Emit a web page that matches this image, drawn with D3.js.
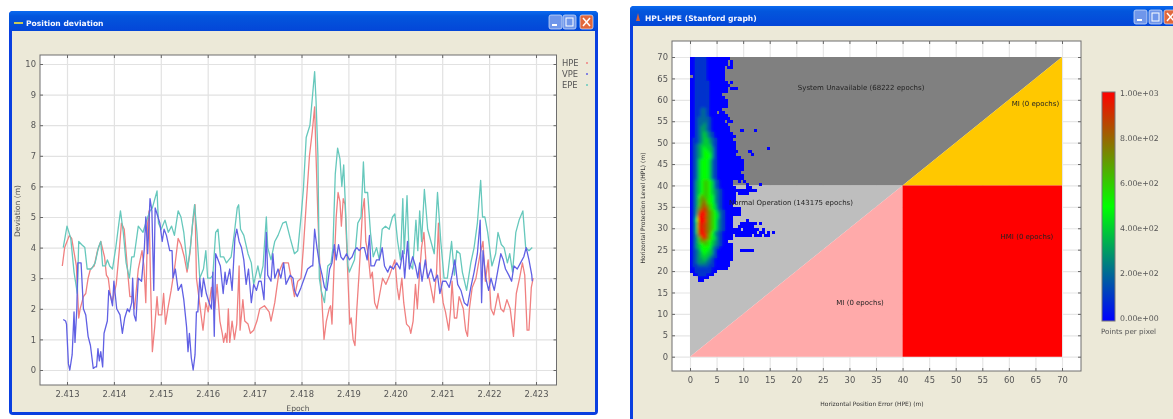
<!DOCTYPE html>
<html>
<head>
<meta charset="utf-8">
<script src="https://cdn.jsdelivr.net/npm/d3@7"></script>
<style>
  html, body { margin: 0; background: #fff; overflow: hidden; }
  svg { display: block; font-family: "DejaVu Sans", sans-serif; filter: blur(0.55px); }
  .axis path { display: none; }
</style>
</head>
<body>
<script>
// --- left chart data, epochs in thousandths above 2.4 ---
var deviationTicks = [0, 1, 2, 3, 4, 5, 6, 7, 8, 9, 10];
var epochTicks = [13, 14, 15, 16, 17, 18, 19, 20, 21, 22, 23];
var legendNames = ["HPE", "VPE", "EPE"];

var hpeEpoch = [12.9,12.95,13.05,13.1,13.2,13.22,13.25,13.28,13.35,13.4,13.45,13.5,13.58,13.65,13.72,13.8,13.84,13.88,13.92,13.96,14.05,14.12,14.16,14.22,14.3,14.34,14.4,14.44,14.52,14.6,14.64,14.68,14.72,14.75,14.78,14.82,14.87,14.92,14.95,15.02,15.06,15.1,15.15,15.22,15.3,15.37,15.43,15.5,15.56,15.62,15.68,15.73,15.76,15.9,15.96,16.01,16.08,16.15,16.2,16.26,16.31,16.34,16.38,16.41,16.44,16.47,16.52,16.57,16.62,16.67,16.69,16.75,16.79,16.86,16.91,16.98,17.05,17.11,17.21,17.31,17.35,17.43,17.52,17.6,17.72,17.78,17.85,17.92,17.99,18.04,18.1,18.17,18.23,18.28,18.31,18.35,18.39,18.43,18.48,18.53,18.59,18.62,18.65,18.69,18.74,18.78,18.82,18.85,18.89,18.93,18.96,18.99,19.03,19.06,19.1,19.14,19.18,19.23,19.3,19.34,19.37,19.42,19.47,19.51,19.56,19.61,19.67,19.73,19.8,19.88,19.99,20.04,20.08,20.14,20.18,20.24,20.3,20.33,20.38,20.43,20.47,20.51,20.56,20.61,20.67,20.72,20.77,20.82,20.88,20.92,20.96,21.02,21.07,21.14,21.18,21.21,21.26,21.31,21.36,21.45,21.5,21.54,21.58,21.64,21.72,21.81,21.87,21.92,21.98,22.04,22.1,22.19,22.25,22.31,22.38,22.45,22.52,22.58,22.65,22.71,22.76,22.81,22.85,22.9,22.94];
var hpeValue = [3.4,4,4.4,4.3,3.4,2.7,1.7,2,2.4,2.5,3,3.3,3.4,3.9,4.2,3.7,3.1,3,2.5,2.2,2.8,4,4.8,4.6,3.1,2.4,2.4,2,3.3,3.9,3.4,2.2,4.8,5.2,3,0.6,1.4,2.4,1.8,1.8,2.5,1.5,2,2.6,3.4,4.3,4.1,3.7,3.2,3.8,4.8,5.4,3,1.3,2.2,1.9,2.7,2,2.8,1.6,1.2,0.9,1.2,0.9,2,0.9,1.6,1,1.5,3.4,1.3,2.3,1.6,1.5,1.2,1.3,1.6,2,2.1,1.9,1.6,2.2,3.2,3.5,3.5,3,2.4,2.9,3,4,5.4,7,7.8,8.6,7,5,3.4,2.4,1,1.6,2,2.1,1.5,3.2,5,5.8,5.5,4.7,5.6,5.4,4.2,3,1.5,1.7,1,0.8,2,3.2,5.2,5.6,4.2,3.8,3,3.2,2.2,2,2.5,3,2.8,3.1,3.6,2.7,2.3,3,2.2,1.5,1.4,1.2,1.6,2.8,2,3,4,4.5,3.2,3,2.6,2.2,3.2,4.8,3,2.2,1.9,1.3,2,2.9,1.7,1.7,2.4,2,1.3,1.1,2,2.7,3,3.8,4.2,2.9,3.6,2,1.8,2.5,2,1.9,2.3,2,1.1,2.5,3,3.5,3.1,1.3,1.3,2.7,3];

var epeEpoch = [12.92,13,13.08,13.15,13.22,13.25,13.31,13.38,13.43,13.52,13.6,13.67,13.72,13.76,13.82,13.86,13.91,13.97,14.04,14.09,14.14,14.2,14.26,14.33,14.38,14.43,14.52,14.62,14.7,14.77,14.82,14.92,14.95,15.01,15.09,15.16,15.23,15.29,15.37,15.43,15.49,15.57,15.63,15.69,15.72,15.77,15.83,15.91,15.96,16,16.06,16.11,16.17,16.22,16.27,16.34,16.4,16.5,16.57,16.63,16.66,16.7,16.77,16.86,16.93,16.98,17.07,17.12,17.18,17.25,17.28,17.35,17.43,17.5,17.6,17.67,17.76,17.85,17.92,17.99,18.04,18.1,18.18,18.28,18.31,18.35,18.38,18.42,18.49,18.56,18.63,18.67,18.72,18.77,18.82,18.86,18.9,18.94,18.99,19.02,19.13,19.2,19.27,19.32,19.35,19.41,19.47,19.53,19.6,19.66,19.72,19.79,19.87,19.94,19.99,20.05,20.11,20.16,20.19,20.25,20.3,20.37,20.44,20.48,20.52,20.56,20.62,20.69,20.76,20.83,20.9,20.97,21.04,21.11,21.2,21.26,21.31,21.38,21.43,21.52,21.61,21.68,21.75,21.82,21.86,21.91,21.97,22.06,22.14,22.19,22.26,22.32,22.39,22.44,22.5,22.57,22.64,22.72,22.78,22.85,22.92];
var epeValue = [4,4.7,4.3,3.2,2.5,4.2,4.1,4,3.3,3.3,3.5,4,4.2,3.4,3.4,3.6,3.4,3.3,4,4.6,5.2,4.5,3.5,3,3.7,3.7,4.7,4.5,4.9,5.2,5.3,5.85,4.8,4.6,4.9,4.5,4.7,4.4,5.2,5,4.5,3.3,4,5,5.4,4.5,3,3.3,3.9,3,3,3.1,4.5,4.6,3.7,3.7,3.5,3.7,4.5,5.3,5.4,4.6,4.4,3.8,3.5,2.8,3.4,3,3.4,5,4,3.6,4.2,4.4,4.8,4.85,4.3,3.8,3.9,5,5.9,7.6,8,9.75,8.8,7,3,2.6,2.2,3.4,3.5,4,6.4,7.25,6.9,6,6.7,5.2,3.4,3.2,3.6,4.8,5,6.8,5.8,5.8,4.5,3.7,4,3.6,4.6,4.7,4.6,5,5.1,4.2,3.6,5.6,3.8,5.7,3.5,3.3,4.9,3.9,5.2,4.2,5.9,4.6,4.2,3.8,5.8,4.2,3,3,4.2,3.1,3.9,3.8,3.2,2.6,3.5,4,4.8,6.2,5,5,4.5,3.4,3.8,4.5,4.1,4,3.5,3.8,3.2,4.5,4.9,5.2,4,3.9,4];

var vpeEpoch = [12.92,12.97,12.99,13.03,13.06,13.11,13.15,13.17,13.21,13.23,13.26,13.3,13.35,13.4,13.45,13.5,13.56,13.6,13.63,13.66,13.69,13.72,13.76,13.79,13.86,13.89,13.93,13.97,14,14.06,14.13,14.18,14.23,14.29,14.33,14.38,14.4,14.43,14.47,14.52,14.59,14.65,14.68,14.72,14.77,14.81,14.85,14.88,14.94,14.98,15.03,15.07,15.12,15.19,15.24,15.26,15.31,15.37,15.44,15.49,15.55,15.58,15.61,15.65,15.69,15.73,15.76,15.79,15.83,15.87,15.91,15.97,16.03,16.08,16.11,16.14,16.17,16.22,16.27,16.33,16.37,16.4,16.47,16.52,16.58,16.62,16.67,16.72,16.77,16.82,16.87,16.93,16.98,17.04,17.09,17.14,17.2,17.25,17.28,17.35,17.39,17.43,17.5,17.56,17.62,17.67,17.76,17.82,17.85,17.91,17.99,18.06,18.13,18.21,18.24,18.28,18.33,18.38,18.44,18.49,18.54,18.6,18.65,18.7,18.74,18.79,18.84,18.89,18.96,19.02,19.08,19.13,19.18,19.23,19.29,19.34,19.4,19.45,19.48,19.55,19.6,19.66,19.72,19.77,19.84,19.89,19.96,20.03,20.1,20.16,20.2,20.26,20.3,20.37,20.43,20.48,20.52,20.57,20.64,20.69,20.76,20.83,20.9,20.95,21.01,21.08,21.15,21.21,21.27,21.33,21.4,21.47,21.54,21.61,21.68,21.75,21.81,21.84,21.87,21.93,21.99,22.04,22.11,22.18,22.25,22.3,22.35,22.42,22.48,22.53,22.6,22.67,22.74,22.79,22.85,22.91,22.92];
var vpeValue = [1.65,1.6,1.5,0.2,0,0.5,1.9,0.9,2,3.5,3.5,3.5,2,1.8,1.1,0.8,0.05,0.1,0.1,0.7,0.3,0.6,0.1,1.2,1.6,2.6,2.4,2.1,2.9,2,1.8,1.2,1.7,2,1.9,2.2,3,1.8,1.6,3,2.9,4,5,3.8,5.6,5.2,2.6,5.3,5,4.8,4.2,4.6,4.4,3.9,3.9,3,3.3,2.6,2.8,2.3,1.4,0.6,1.2,0.4,0,0.5,1.9,1.9,3,2.4,3,2.5,2.2,2,3.2,1.1,3.8,3.6,3.4,2.5,3.2,2.8,3.3,2.6,4.3,4.6,4.2,4,3.6,2.8,3.3,2.2,2.8,2.6,2.9,2.9,2.3,4.5,3.1,2.9,3.8,3,3.3,3,3.5,2.8,3.1,3,2.6,2.4,2.7,3,3.3,3.4,3.4,4.6,4,3.5,3.1,2.7,2.6,3.3,3.5,4.1,3.6,4.1,3.7,3.6,3.8,3.6,3.7,3.9,4,3.9,4,4,3.6,4.4,3.4,3.4,3.6,3.6,4,3.4,3.2,3.4,3.3,3.5,3.3,3.9,3,4.2,3.3,3.7,3.4,3,3.5,2.9,3.6,3,3.3,2.9,3.1,2.5,2.9,2.9,2.7,3.1,3.6,2.8,2.6,2.2,2.1,2.7,3.2,3.8,4.9,2.2,3.9,3,2.6,3,2.6,3.2,3.8,3.6,3.3,3.1,2.9,3.4,3.3,3.5,3.7,4,3.6,3.1,2.9];

// --- right chart data ---
var hpeTicks = [0, 5, 10, 15, 20, 25, 30, 35, 40, 45, 50, 55, 60, 65, 70];
var hplTicks = [0, 5, 10, 15, 20, 25, 30, 35, 40, 45, 50, 55, 60, 65, 70];
var colorbarTicks = [0, 200, 400, 600, 800, 1000];

// regions of the Stanford graph, corners as [HPE, HPL]
var regionColors = ["#808080", "#bebebe", "#ffaaaa", "#ffc800", "#ff0000"];
var regionCorners = [
  [[0, 40], [40, 40], [70, 70], [0, 70]],
  [[0, 0], [40, 40], [0, 40]],
  [[0, 0], [40, 0], [40, 40]],
  [[40, 40], [70, 40], [70, 70]],
  [[40, 0], [70, 0], [70, 40], [40, 40]]
];

var regionLabels = ["System Unavailable (68222 epochs)", "MI (0 epochs)", "Normal Operation (143175 epochs)", "HMI (0 epochs)", "MI (0 epochs)"];
var regionLabelHpe = [32.2, 65, 19, 63.4, 32];
var regionLabelHpl = [62.3, 58.6, 35.4, 27.5, 12.1];

// density rows from HPL 70 downward, one char per HPE bin, in hundreds of points ("." = empty, a = 1000)
var heatRows = [
  "001111000000000",
  "00111100000000.0",
  "00111100000000.0",
  "0011110000000.00",
  "0011110000000",
  "0011110000000",
  ".011110000000",
  "0011110000000",
  "00111110000000.0",
  "001111100000000",
  "00111110000000.000",
  "00111110000000",
  "001111100000",
  "0011111000000",
  "00111110000000",
  "00111110000000",
  "00111110000000",
  "001122100000",
  "0011221000.00",
  "00112210000000",
  "001222210000000",
  "0012222100000.00",
  "00122321000000",
  "001233210000000",
  "001233210000000....0....0",
  "0012343210000000",
  "00123432100000000",
  "0112344321000000",
  "01123443210000000",
  "01234444210000000",
  "01234544310000000............0",
  "012345543100000000....0",
  "01234555310000000......0",
  "0123455531000000000",
  "01245554210000000000",
  "01245554210000000000",
  "01245554210000000000",
  "01245554210000000000",
  "0124555421000000000",
  "01245554210000000000",
  "01245554210000000000",
  "0134566542100000..0.0",
  "0134566542100000.....0....0",
  "01345665421000000....00",
  "0134566543210000000000000",
  "01345665432100000.0000",
  "01357665532100000",
  "01367765532100000",
  "01367865532100000",
  "0136887654210000",
  "0137898654210000000",
  "0138a98765321000000",
  "0139aa8765421000000",
  "014aa98765421000",
  "015aaa8765321000.....0",
  "0149a98765321000...000000.0",
  "014a998765321000..000000",
  "0149a98765321000000.000000.0",
  "0149a98753210000000000000.00.0.0",
  "0138aa8653210000.000000.000.00",
  "0136898654210000",
  "01367765432100",
  "0134566543210000",
  "0134555532100000",
  "0123555431000000...00000",
  "0123454431000000",
  "0123444321000000",
  "0123343210000000",
  "012333221000000",
  "011222211000000",
  "00111111000000",
  "0011111100",
  ".00111000",
  "...0000",
  "...00"
];

var svgWidth = 1173;
var svgHeight = 419;
var windowBg = "#ece9d8";

var svg = d3.select("body").append("svg")
  .attr("width", svgWidth)
  .attr("height", svgHeight);

var defs = svg.append("defs");
var titleGrad = defs.append("linearGradient")
  .attr("id", "titleGrad").attr("x1", 0).attr("x2", 0).attr("y1", 0).attr("y2", 1);
titleGrad.append("stop").attr("offset", "0%").attr("stop-color", "#0a6af0");
titleGrad.append("stop").attr("offset", "25%").attr("stop-color", "#0356dc");
titleGrad.append("stop").attr("offset", "100%").attr("stop-color", "#0446d8");

// soft layer for the dense part of the heat map
defs.append("filter").attr("id", "heatBlur")
  .attr("x", "-5%").attr("y", "-5%").attr("width", "110%").attr("height", "110%")
  .append("feGaussianBlur").attr("stdDeviation", 1.6);

// draws the XP style window behind a chart
function drawWindow(x, y, w, h, title, titleX) {
  svg.append("rect").attr("x", x).attr("y", y).attr("width", w).attr("height", h)
    .attr("rx", 4).attr("fill", "#0a3fe0");
  svg.append("rect").attr("x", x + 3).attr("y", y + 20).attr("width", w - 6).attr("height", h - 23)
    .attr("fill", windowBg);
  svg.append("rect").attr("x", x).attr("y", y).attr("width", w).attr("height", 20)
    .attr("rx", 4).attr("fill", "url(#titleGrad)");
  svg.append("text").attr("x", titleX).attr("y", y + 15)
    .attr("font-size", "7.6px").attr("font-weight", "bold").attr("fill", "#f4f6ff")
    .text(title);
}

function drawButtons(xs, y) {
  xs.forEach(function(bx, i) {
    svg.append("rect").attr("x", bx).attr("y", y).attr("width", 13).attr("height", 14)
      .attr("rx", 2)
      .attr("fill", i == 2 ? "#e2683c" : "#6f96ea")
      .attr("stroke", "#dbe6fb").attr("stroke-width", 0.7);
  });
  svg.append("rect").attr("x", xs[0] + 3).attr("y", y + 9).attr("width", 5).attr("height", 2).attr("fill", "#fff");
  svg.append("rect").attr("x", xs[1] + 3).attr("y", y + 3).attr("width", 7).attr("height", 8)
    .attr("fill", "none").attr("stroke", "#fff");
  svg.append("path")
    .attr("d", `M${xs[2] + 3},${y + 3}L${xs[2] + 10},${y + 11}M${xs[2] + 10},${y + 3}L${xs[2] + 3},${y + 11}`)
    .attr("stroke", "#fff").attr("stroke-width", 1.5);
}

drawWindow(9, 11, 589, 404, "Position deviation", 26);
drawButtons([549, 563, 580], 15);
svg.append("rect").attr("x", 14).attr("y", 22).attr("width", 9).attr("height", 2).attr("fill", "#c8c858");

drawWindow(630, 6, 560, 430, "HPL-HPE (Stanford graph)", 645);
drawButtons([1134, 1149, 1164], 10);
svg.append("path").attr("d", "M636,21L638,13L640,21Z").attr("fill", "#d8603a");

// white plot area and grid lines
function drawGrid(frame, xScale, yScale, xTicks, yTicks, gridColor) {
  var g = svg.append("g");
  g.append("rect")
    .attr("x", frame.left).attr("y", frame.top)
    .attr("width", frame.right - frame.left).attr("height", frame.bottom - frame.top)
    .attr("fill", "#fff");

  g.append("g").attr("class", "axis")
    .attr("transform", `translate(0, ${frame.bottom})`)
    .call(d3.axisBottom(xScale).tickValues(xTicks).tickSize(-(frame.bottom - frame.top)).tickFormat(""))
    .selectAll("line").attr("stroke", gridColor).attr("stroke-width", 1.2);
  g.append("g").attr("class", "axis")
    .attr("transform", `translate(${frame.left}, 0)`)
    .call(d3.axisLeft(yScale).tickValues(yTicks).tickSize(-(frame.right - frame.left)).tickFormat(""))
    .selectAll("line").attr("stroke", gridColor).attr("stroke-width", 1.2);
}

// labelled axes, small inward ticks on all four sides, and the frame
function drawFrame(frame, xScale, yScale, xTicks, yTicks, xFormat, yFormat) {
  var g = svg.append("g");
  g.append("g").attr("class", "axis")
    .attr("transform", `translate(0, ${frame.bottom})`)
    .call(d3.axisBottom(xScale).tickValues(xTicks).tickSizeInner(-3).tickPadding(6).tickFormat(xFormat));
  g.append("g").attr("class", "axis")
    .attr("transform", `translate(${frame.left}, 0)`)
    .call(d3.axisLeft(yScale).tickValues(yTicks).tickSizeInner(-3).tickPadding(4).tickFormat(yFormat));
  g.append("g").attr("class", "axis")
    .attr("transform", `translate(0, ${frame.top})`)
    .call(d3.axisTop(xScale).tickValues(xTicks).tickSizeInner(-3).tickFormat(""));
  g.append("g").attr("class", "axis")
    .attr("transform", `translate(${frame.right}, 0)`)
    .call(d3.axisRight(yScale).tickValues(yTicks).tickSizeInner(-3).tickFormat(""));
  g.selectAll("line").attr("stroke", "#666");
  g.selectAll("text").attr("fill", "#555").attr("font-size", "8.4px").attr("font-family", "DejaVu Sans");
  g.append("rect")
    .attr("x", frame.left).attr("y", frame.top)
    .attr("width", frame.right - frame.left).attr("height", frame.bottom - frame.top)
    .attr("fill", "none").attr("stroke", "#6e6e6e").attr("stroke-width", 1);
}

// ---------- left chart: position deviation ----------
var devFrame = { left: 40, right: 556.5, top: 55, bottom: 385 };
var epochScale = d3.scaleLinear().domain([13, 23]).range([67, 536]);
var devScale = d3.scaleLinear().domain([0, 10]).range([370, 64]);
var epochFormat = function(d) { return (2.4 + d / 1000).toFixed(3); };

drawGrid(devFrame, epochScale, devScale, epochTicks, deviationTicks, "#e2e2e2");

var devLine = d3.line()
  .x(function(d) { return epochScale(d[0]); })
  .y(function(d) { return devScale(d[1]); });

var seriesList = [
  { name: "HPE", epoch: hpeEpoch, value: hpeValue, color: "#f08080" },
  { name: "EPE", epoch: epeEpoch, value: epeValue, color: "#66c8bc" },
  { name: "VPE", epoch: vpeEpoch, value: vpeValue, color: "#6060e4" }
];
var seriesColor = {};
seriesList.forEach(function(s) {
  seriesColor[s.name] = s.color;
  svg.append("path")
    .attr("d", devLine(d3.zip(s.epoch, s.value)))
    .attr("fill", "none")
    .attr("stroke", s.color)
    .attr("stroke-width", 1.3)
    .attr("stroke-linejoin", "round");
});

drawFrame(devFrame, epochScale, devScale, epochTicks, deviationTicks, epochFormat, d3.format("d"));

svg.append("text").attr("x", 298).attr("y", 411).attr("text-anchor", "middle")
  .attr("font-size", "7.6px").attr("fill", "#555").text("Epoch");
svg.append("text").attr("transform", "translate(20, 211) rotate(-90)").attr("text-anchor", "middle")
  .attr("font-size", "7.6px").attr("fill", "#555").text("Deviation (m)");

var legendY = d3.scalePoint().domain(legendNames).range([63, 85]);
legendNames.forEach(function(name) {
  svg.append("text").attr("x", 562).attr("y", legendY(name) + 3)
    .attr("font-size", "8.4px").attr("fill", "#555").text(name);
  svg.append("circle").attr("cx", 587).attr("cy", legendY(name)).attr("r", 1)
    .attr("fill", seriesColor[name]);
});

// ---------- right chart: Stanford graph ----------
var hplFrame = { left: 672, right: 1081, top: 41, bottom: 371 };
var hpeScale = d3.scaleLinear().domain([0, 70]).range([690, 1062]);
var hplScale = d3.scaleLinear().domain([0, 70]).range([356.7, 57]);

drawGrid(hplFrame, hpeScale, hplScale, hpeTicks, hplTicks, "#e6e6e6");

svg.append("g").selectAll("polygon")
  .data(regionCorners)
  .enter()
  .append("polygon")
  .attr("points", function(d) {
    return d.map(function(c) { return [hpeScale(c[0]), hplScale(c[1])].join(","); }).join(" ");
  })
  .attr("fill", function(d, i) { return regionColors[i]; });

// blue -> green -> red, same map for the cells and the colour bar
var countColor = d3.scaleLinear()
  .domain([0, 500, 1000])
  .range(["#0000ff", "#00ff00", "#ff0000"]);

var hpeBin = 0.5;
var hplBin = 0.7;
var binW = hpeScale(hpeBin) - hpeScale(0);
var binH = hplScale(0) - hplScale(hplBin);

var heatCells = [];
heatRows.forEach(function(row, r) {
  row.split("").forEach(function(ch, c) {
    if (ch == ".") return;
    heatCells.push({ hpe: c * hpeBin, hpl: 70 - r * hplBin, count: parseInt(ch, 16) * 100 });
  });
});

// keeps the blurred copy from bleeding past the top and left of the map
defs.append("clipPath").attr("id", "heatClip")
  .append("rect")
  .attr("x", hpeScale(0)).attr("y", hplScale(70))
  .attr("width", hpeScale(70) - hpeScale(0)).attr("height", hplScale(0) - hplScale(70));

// sharp cells first, then a blurred copy of the non-zero cells so the core is smooth
function drawCells(group, cells) {
  group.selectAll("rect")
    .data(cells)
    .enter()
    .append("rect")
    .attr("x", function(d) { return hpeScale(d.hpe); })
    .attr("y", function(d) { return hplScale(d.hpl); })
    .attr("width", binW + 0.4)
    .attr("height", binH + 0.4)
    .attr("fill", function(d) { return countColor(d.count); });
}
drawCells(svg.append("g").attr("shape-rendering", "crispEdges"), heatCells);
drawCells(
  svg.append("g").attr("clip-path", "url(#heatClip)").append("g").attr("filter", "url(#heatBlur)"),
  heatCells.filter(function(d) { return d.count > 0; })
);

regionLabels.forEach(function(t, i) {
  svg.append("text")
    .attr("x", hpeScale(regionLabelHpe[i]))
    .attr("y", hplScale(regionLabelHpl[i]))
    .attr("text-anchor", "middle")
    .attr("font-size", "7px").attr("fill", "#222")
    .text(t);
});

drawFrame(hplFrame, hpeScale, hplScale, hpeTicks, hplTicks, d3.format("d"), d3.format("d"));

svg.append("text").attr("x", 872).attr("y", 406).attr("text-anchor", "middle")
  .attr("font-size", "6px").attr("fill", "#333").text("Horizontal Position Error (HPE) (m)");
svg.append("text").attr("transform", "translate(645, 208) rotate(-90)").attr("text-anchor", "middle")
  .attr("font-size", "6px").attr("fill", "#333").text("Horizontal Protection Level (HPL) (m)");

// ---------- colour bar ----------
var barScale = d3.scaleLinear().domain([0, 1000]).range([321, 92]);
var barGrad = defs.append("linearGradient")
  .attr("id", "barGrad").attr("x1", 0).attr("x2", 0).attr("y1", 1).attr("y2", 0);
countColor.domain().forEach(function(v) {
  barGrad.append("stop").attr("offset", (v / 10) + "%").attr("stop-color", countColor(v));
});
svg.append("rect").attr("x", 1102).attr("y", barScale(1000))
  .attr("width", 13).attr("height", barScale(0) - barScale(1000))
  .attr("fill", "url(#barGrad)").attr("stroke", "#777").attr("stroke-width", 1);

var barLabelScale = d3.scaleLinear().domain([0, 1000]).range([318, 93]);
colorbarTicks.forEach(function(v) {
  svg.append("text").attr("x", 1120).attr("y", barLabelScale(v) + 3)
    .attr("font-size", "7.8px").attr("fill", "#555")
    .text(d3.format(".2e")(v).replace("e+", "e+0"));
});
svg.append("text").attr("x", 1101).attr("y", 334)
  .attr("font-size", "7.2px").attr("fill", "#555").text("Points per pixel");
</script>
</body>
</html>
